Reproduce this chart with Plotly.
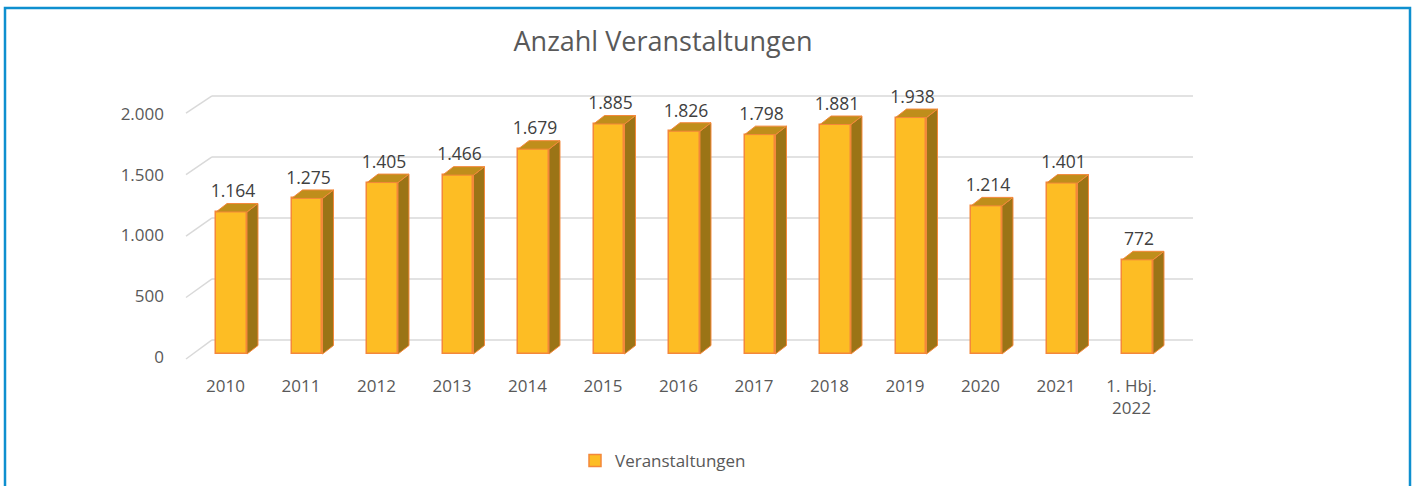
import plotly.graph_objects as go

# ---- data ----
categories = ["2010", "2011", "2012", "2013", "2014", "2015", "2016", "2017",
              "2018", "2019", "2020", "2021", "1. Hbj.<br>2022"]
values = [1164, 1275, 1405, 1466, 1679, 1885, 1826, 1798, 1881, 1938, 1214, 1401, 772]
y_ticks = [0, 500, 1000, 1500, 2000]
y_tick_text = ["0", "500", "1.000", "1.500", "2.000"]
series_name = "Veranstaltungen"

# ---- geometry (pseudo-3D) ----
W, H = 1413, 486
L, R, T, B = 182, 1213, 80, 370          # plot area in pixels
STEP = 75.5                               # px per category
X0 = 231.5                                # px center of first bar
PXU = 0.122                               # px per value unit
Y0 = 354                                  # px of value 0 on bar front plane
BAR_W = 0.41
DX = 11 / STEP                            # depth offset (x)
DY = 8.5 / PXU                            # depth offset (y)
WALL_DX0, WALL_DX1 = (186 - X0) / STEP, (212 - X0) / STEP
WALL_END = (1193 - X0) / STEP
WALL_OFF = 115                            # back wall offset (value units)

xr = [(L - X0) / STEP, (R - X0) / STEP]
yr = [(Y0 - B) / PXU, (Y0 - T) / PXU]

pos = list(range(len(categories)))

FRONT = "#FDBD24"
EDGE = "#F4883A"
TOP = "#BF8E1B"
SIDE = "#9B7416"
GRID = "#D9D9D9"
TXT = "#595959"
FONT = "Open Sans"

fig = go.Figure()

# gridlines (behind the bars): back wall + left wall diagonals
for v in y_ticks:
    fig.add_shape(type="line", xref="x", yref="y", layer="below",
                  x0=WALL_DX0, y0=v * 1.008 - 41, x1=WALL_DX1, y1=v + WALL_OFF,
                  line=dict(color=GRID, width=1.5))
    fig.add_shape(type="line", xref="x", yref="y", layer="below",
                  x0=WALL_DX1, y0=v + WALL_OFF, x1=WALL_END, y1=v + WALL_OFF,
                  line=dict(color=GRID, width=1.5))

# side faces
sx, sy = [], []
for u, v in zip(pos, values):
    r = u + BAR_W / 2
    sx += [r, r + DX, r + DX, r, r, None]
    sy += [0, DY, v + DY, v, 0, None]
fig.add_trace(go.Scatter(x=sx, y=sy, mode="lines", fill="toself", fillcolor=SIDE,
                         line=dict(color=EDGE, width=1), hoverinfo="skip", showlegend=False))

# top faces
tx, ty = [], []
for u, v in zip(pos, values):
    l, r = u - BAR_W / 2, u + BAR_W / 2
    tx += [l, r, r + DX, l + DX, l, None]
    ty += [v, v, v + DY, v + DY, v, None]
fig.add_trace(go.Scatter(x=tx, y=ty, mode="lines", fill="toself", fillcolor=TOP,
                         line=dict(color=EDGE, width=1), hoverinfo="skip", showlegend=False))

# front faces
fig.add_trace(go.Bar(x=pos, y=values, width=BAR_W, name=series_name,
                     marker=dict(color=FRONT, line=dict(color=EDGE, width=1.5)),
                     showlegend=True))

# data labels
labels = [f"{v:,}".replace(",", ".") for v in values]
fig.add_trace(go.Scatter(x=[u + 0.02 for u in pos], y=[v + DY + 15 for v in values],
                         mode="text", text=labels, textposition="top center",
                         textfont=dict(family=FONT, size=17.5, color="#404040"),
                         hoverinfo="skip", showlegend=False, cliponaxis=False))

# frame
fig.add_shape(type="rect", xref="paper", yref="paper",
              x0=(5 - L) / (R - L), x1=(1410 - L) / (R - L),
              y0=(B - 520) / (B - T), y1=(B - 8) / (B - T),
              line=dict(color="#0E8FCF", width=2.5), layer="below")

fig.update_layout(
    width=W, height=H,
    margin=dict(l=L, r=W - R, t=T, b=H - B, pad=0, autoexpand=False),
    paper_bgcolor="white", plot_bgcolor="white",
    font=dict(family=FONT, size=17, color=TXT),
    title=dict(text="Anzahl Veranstaltungen", x=663 / W, xanchor="center",
               y=1 - 42 / H, yanchor="middle",
               font=dict(family=FONT, size=27, color=TXT)),
    xaxis=dict(range=xr, tickvals=[p - 0.08 for p in pos], ticktext=categories,
               showgrid=False, zeroline=False, showline=False, ticks="",
               ticklabelstandoff=4, automargin=False,
               tickfont=dict(family=FONT, size=17, color=TXT), fixedrange=True),
    yaxis=dict(range=yr, tickvals=[0.996 * v - 25 for v in y_ticks], ticktext=y_tick_text,
               showgrid=False, zeroline=False, showline=False, ticks="",
               ticklabelstandoff=17, automargin=False,
               tickfont=dict(family=FONT, size=17, color=TXT), fixedrange=True),
    legend=dict(orientation="h", xref="container", yref="container",
                x=663 / W, xanchor="center", y=1 - 461 / H, yanchor="middle",
                font=dict(family=FONT, size=17, color=TXT)),
    bargap=0,
)

fig.write_html("out.html", config={"displayModeBar": False},
               post_script="document.body.style.margin='0';")
